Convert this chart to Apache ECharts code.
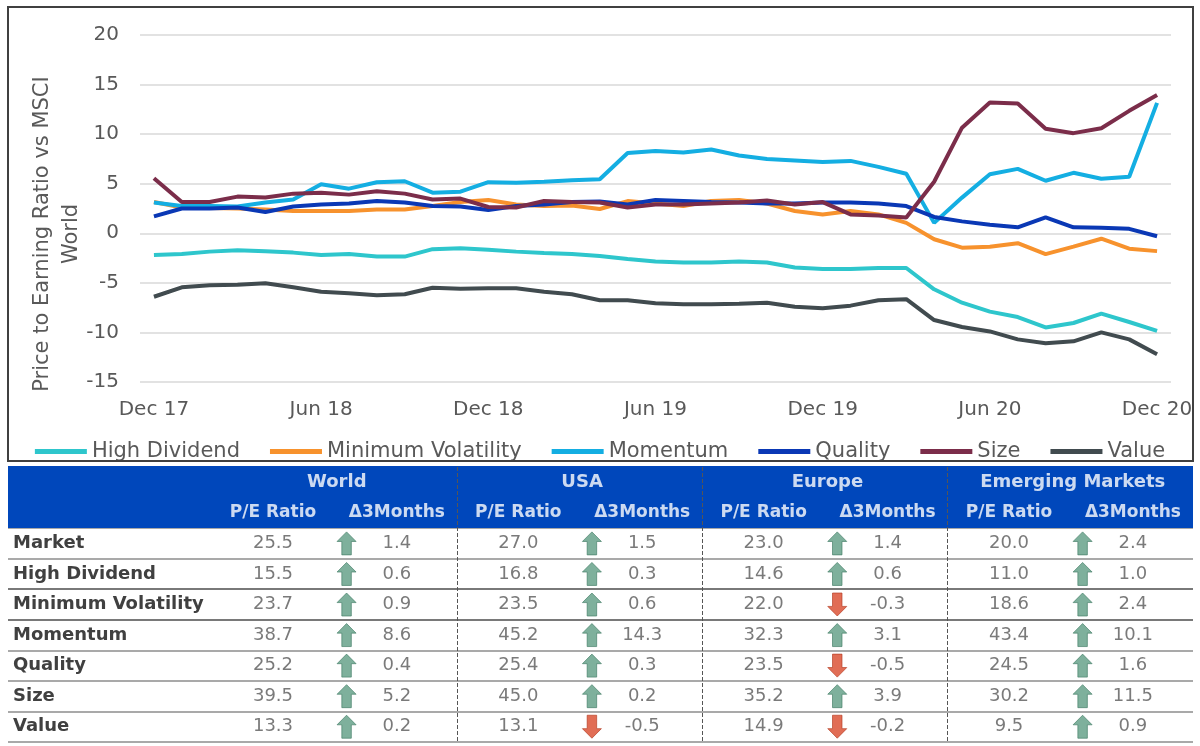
<!DOCTYPE html>
<html lang="en" style="height: 100%">
<head>
  <meta charset="utf-8">
  <script src="https://cdn.jsdelivr.net/npm/echarts@6/dist/echarts.min.js"></script>
</head>
<body style="height: 100%; margin: 0; background: #fff">
  <div id="container" style="width: 1200px; height: 746px"></div>

  <script type="text/javascript">
    // monthly relative P/E vs MSCI World
    var months = [
      'Dec 17', 'Jan 18', 'Feb 18', 'Mar 18', 'Apr 18', 'May 18', 'Jun 18', 'Jul 18', 'Aug 18', 'Sep 18', 'Oct 18', 'Nov 18',
      'Dec 18', 'Jan 19', 'Feb 19', 'Mar 19', 'Apr 19', 'May 19', 'Jun 19', 'Jul 19', 'Aug 19', 'Sep 19', 'Oct 19', 'Nov 19',
      'Dec 19', 'Jan 20', 'Feb 20', 'Mar 20', 'Apr 20', 'May 20', 'Jun 20', 'Jul 20', 'Aug 20', 'Sep 20', 'Oct 20', 'Nov 20',
      'Dec 20'
    ];
    var highDividend = [-2.2, -2.1, -1.85, -1.7, -1.8, -1.95, -2.2, -2.1, -2.35, -2.35, -1.6, -1.5, -1.65, -1.85, -2.0, -2.1, -2.3, -2.6, -2.85, -2.95, -2.95, -2.85, -2.95, -3.45, -3.6, -3.6, -3.5, -3.5, -5.65, -7.0, -7.9, -8.45, -9.5, -9.05, -8.1, -8.95, -9.85];
    var minVolatility = [3.15, 2.6, 2.55, 2.5, 2.4, 2.25, 2.25, 2.25, 2.4, 2.4, 2.75, 3.15, 3.35, 2.9, 2.75, 2.8, 2.45, 3.25, 3.0, 2.75, 3.25, 3.35, 3.0, 2.25, 1.9, 2.25, 1.9, 1.05, -0.6, -1.45, -1.35, -1.0, -2.1, -1.35, -0.55, -1.55, -1.8];
    var momentum = [3.1, 2.75, 2.75, 2.7, 3.1, 3.4, 4.95, 4.5, 5.15, 5.25, 4.1, 4.2, 5.15, 5.1, 5.2, 5.35, 5.45, 8.1, 8.3, 8.15, 8.45, 7.85, 7.5, 7.35, 7.2, 7.3, 6.7, 6.0, 1.05, 3.6, 5.95, 6.5, 5.3, 6.1, 5.5, 5.7, 13.15];
    var quality = [1.7, 2.5, 2.5, 2.6, 2.15, 2.7, 2.9, 3.0, 3.25, 3.1, 2.75, 2.7, 2.35, 2.75, 2.9, 3.15, 3.2, 2.9, 3.35, 3.25, 3.15, 3.1, 3.0, 3.0, 3.1, 3.1, 3.0, 2.75, 1.65, 1.2, 0.85, 0.6, 1.6, 0.6, 0.55, 0.45, -0.3];
    var size = [5.55, 3.15, 3.15, 3.7, 3.6, 4.0, 4.1, 3.9, 4.25, 4.0, 3.4, 3.5, 2.65, 2.6, 3.25, 3.15, 3.1, 2.6, 2.9, 2.9, 3.0, 3.1, 3.3, 2.9, 3.15, 1.9, 1.8, 1.6, 5.2, 10.65, 13.2, 13.1, 10.55, 10.1, 10.6, 12.35, 13.95];
    var value = [-6.4, -5.45, -5.25, -5.2, -5.05, -5.45, -5.9, -6.05, -6.25, -6.15, -5.5, -5.6, -5.55, -5.55, -5.9, -6.15, -6.75, -6.75, -7.05, -7.15, -7.15, -7.1, -7.0, -7.4, -7.55, -7.3, -6.75, -6.65, -8.75, -9.45, -9.9, -10.7, -11.1, -10.9, -10.0, -10.7, -12.2];

    // table
    var regions = ['World', 'USA', 'Europe', 'Emerging Markets'];
    var rows = ['Market', 'High Dividend', 'Minimum Volatility', 'Momentum', 'Quality', 'Size', 'Value'];
    var peWorld = [25.5, 15.5, 23.7, 38.7, 25.2, 39.5, 13.3];
    var dWorld = [1.4, 0.6, 0.9, 8.6, 0.4, 5.2, 0.2];
    var peUSA = [27.0, 16.8, 23.5, 45.2, 25.4, 45.0, 13.1];
    var dUSA = [1.5, 0.3, 0.6, 14.3, 0.3, 0.2, -0.5];
    var peEurope = [23.0, 14.6, 22.0, 32.3, 23.5, 35.2, 14.9];
    var dEurope = [1.4, 0.6, -0.3, 3.1, -0.5, 3.9, -0.2];
    var peEM = [20.0, 11.0, 18.6, 43.4, 24.5, 30.2, 9.5];
    var dEM = [2.4, 1.0, 2.4, 10.1, 1.6, 11.5, 0.9];

    var peAll = [peWorld, peUSA, peEurope, peEM];
    var dAll = [dWorld, dUSA, dEurope, dEM];

    var FONT = 'DejaVu Sans';
    var GREY = '#595959';
    var colors = ['#2EC6CC', '#F7922D', '#14AEE2', '#0A38B5', '#7B2D4A', '#414B4F'];

    var dom = document.getElementById('container');
    var myChart = echarts.init(dom, null, { renderer: 'canvas' });

    // table cells
    var rowNames = ['hdr0', 'hdr1'].concat(rows);
    var hdrRegion = [], hdrCols = [], peCells = [], dCells = [], upArrows = [], downArrows = [];
    regions.forEach(function (r, k) {
      hdrRegion.push({ name: r, value: [k + 0.51, 'hdr0'] });
      hdrCols.push({ name: 'P/E Ratio', value: [k + 0.25, 'hdr1'] });
      hdrCols.push({ name: '\u03943Months', value: [k + 0.755, 'hdr1'] });
      rows.forEach(function (row, i) {
        peCells.push({ name: peAll[k][i].toFixed(1), value: [k + 0.25, row] });
        dCells.push({ name: dAll[k][i].toFixed(1), value: [k + 0.755, row] });
        if (dAll[k][i] >= 0) upArrows.push([k + 0.55, row]);
        else downArrows.push([k + 0.55, row]);
      });
    });

    function textSeries(data, size, color, weight, extra) {
      var s = {
        type: 'scatter',
        xAxisIndex: 1,
        yAxisIndex: 1,
        symbolSize: 1,
        itemStyle: { color: 'rgba(0,0,0,0)' },
        silent: true,
        z: 4,
        data: data,
        label: {
          show: true,
          position: 'inside',
          formatter: '{b}',
          color: color,
          fontSize: size,
          fontWeight: weight,
          fontFamily: FONT
        }
      };
      return Object.assign(s, extra || {});
    }

    var lineNames = ['High Dividend', 'Minimum Volatility', 'Momentum', 'Quality', 'Size', 'Value'];
    var lineData = [highDividend, minVolatility, momentum, quality, size, value];

    var lineSeries = lineNames.map(function (n, i) {
      return {
        name: n,
        type: 'line',
        xAxisIndex: 0,
        yAxisIndex: 0,
        data: lineData[i],
        symbol: 'none',
        color: colors[i],
        lineStyle: { width: 4, color: colors[i] }
      };
    });

    var option = {
      animation: false,
      textStyle: { fontFamily: FONT },
      color: colors,
      graphic: [
        {
          type: 'rect',
          z: 1,
          shape: { x: 8, y: 466, width: 1185, height: 62 },
          style: { fill: '#0047BB' }
        },
        {
          type: 'rect',
          z: 10,
          shape: { x: 8, y: 7, width: 1185, height: 454 },
          style: { fill: 'none', stroke: '#404040', lineWidth: 2 }
        },
        {
          // y axis title
          type: 'text',
          x: 57,
          y: 234,
          rotation: Math.PI / 2,
          style: {
            text: 'Price to Earning Ratio vs MSCI\nWorld',
            fill: GREY,
            font: '21px "DejaVu Sans"',
            lineHeight: 29,
            align: 'center',
            verticalAlign: 'middle'
          }
        }
      ],
      legend: {
        data: lineNames,
        top: 436,
        left: 'center',
        icon: 'rect',
        itemWidth: 52,
        itemHeight: 5,
        itemGap: 30,
        textStyle: { fontSize: 21, color: GREY, fontFamily: FONT }
      },
      grid: [
        { left: 140, right: 29, top: 35, bottom: 364 },
        { left: 8, right: 7, top: 467, bottom: 4 }
      ],
      xAxis: [
        {
          type: 'category',
          gridIndex: 0,
          data: months,
          boundaryGap: true,
          axisLine: { show: false },
          axisTick: { show: false },
          axisLabel: { interval: 5, color: GREY, fontSize: 20, margin: 18, fontFamily: FONT },
          splitLine: { show: false }
        },
        {
          type: 'value',
          gridIndex: 1,
          min: -0.83,
          max: 4.0,
          show: false,
          splitLine: { show: false }
        }
      ],
      yAxis: [
        {
          type: 'value',
          gridIndex: 0,
          min: -15,
          max: 20,
          interval: 5,
          axisLine: { show: false },
          axisTick: { show: false },
          axisLabel: { color: GREY, fontSize: 20, margin: 21, fontFamily: FONT },
          splitLine: { lineStyle: { color: '#D9D9D9', width: 1.5 } }
        },
        {
          type: 'category',
          gridIndex: 1,
          inverse: true,
          data: rowNames,
          axisLine: { show: false },
          axisTick: { show: false },
          axisLabel: {
            inside: true,
            margin: 5,
            color: '#404040',
            fontSize: 18,
            fontWeight: 'bold',
            fontFamily: FONT,
            formatter: function (v) { return v.indexOf('hdr') === 0 ? '' : v; }
          },
          splitLine: {
            show: true,
            lineStyle: {
              width: 1.5,
              color: ['#8c8c8c', '#8c8c8c', '#8c8c8c', '#8c8c8c', '#4d4d4d', '#4d4d4d', '#8c8c8c', '#8c8c8c', '#8c8c8c', '#8c8c8c']
            }
          }
        }
      ],
      series: lineSeries.concat([
        textSeries(hdrRegion, 18, '#ffffff', 'bold'),
        textSeries(hdrCols, 17, '#ffffff', 'bold'),
        textSeries(peCells, 18, GREY, 'normal', {
          markLine: {
            silent: true,
            symbol: ['none', 'none'],
            label: { show: false },
            lineStyle: { type: 'dashed', color: '#555555', width: 1 },
            data: [{ xAxis: 1 }, { xAxis: 2 }, { xAxis: 3 }]
          }
        }),
        textSeries(dCells, 18, GREY, 'normal'),
        {
          type: 'scatter',
          xAxisIndex: 1,
          yAxisIndex: 1,
          silent: true,
          z: 4,
          symbol: 'path://M10,0 L20,10 L15,10 L15,24 L5,24 L5,10 L0,10 Z',
          symbolSize: [19, 23],
          itemStyle: { color: '#5E9C83', borderColor: '#3F7A63', borderWidth: 0.8 },
          data: upArrows
        },
        {
          type: 'scatter',
          xAxisIndex: 1,
          yAxisIndex: 1,
          silent: true,
          z: 4,
          symbol: 'path://M5,0 L15,0 L15,14 L20,14 L10,24 L0,14 L5,14 Z',
          symbolSize: [19, 23],
          itemStyle: { color: '#D9482B', borderColor: '#B23A20', borderWidth: 0.8 },
          data: downArrows
        }
      ])
    };

    myChart.setOption(option);
    window.addEventListener('resize', myChart.resize);
  </script>
</body>
</html>
